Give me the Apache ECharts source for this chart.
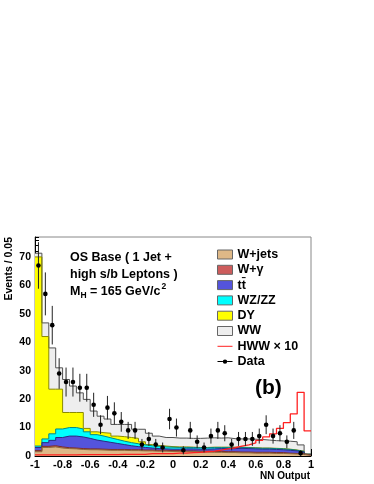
<!DOCTYPE html>
<html>
<head>
<meta charset="utf-8">
<script src="https://cdn.jsdelivr.net/npm/echarts@6/dist/echarts.min.js"></script>
<style>
html,body{margin:0;padding:0;background:#fff;}
#c{width:374px;height:484px;}
</style>
</head>
<body>
<div id="c"></div>
<script>
// ---- data (bins of width 0.05 from -1 to 1) ----
const binWidth = 0.05;
const binLow = Array.from({length: 40}, (_, i) => -1 + binWidth * i);

const wjets  = [1.5,3.0,3.2,2.8,2.6,2.5,2.3,2.2,2.2,2.1,2.0,2.0,2.0,1.9,1.9,1.8,1.8,1.7,1.7,1.6,1.6,1.5,1.5,1.4,1.4,1.3,1.3,1.2,1.2,1.1,1.1,1.0,1.0,1.0,0.9,0.9,0.8,0.7,0.6,0.2];
const wgamma = [0.4,0.4,0.4,0.4,0.3,0.3,0.3,0.3,0.3,0.3,0.3,0.3,0.3,0.3,0.3,0.3,0.3,0.3,0.3,0.3,0.3,0.3,0.3,0.3,0.3,0.3,0.3,0.3,0.3,0.3,0.3,0.3,0.3,0.3,0.3,0.3,0.2,0.2,0.2,0.1];
const ttbar  = [1.1,1.3,1.9,3.3,4.1,4.2,4.1,3.7,3.1,2.8,2.5,2.1,1.7,1.4,1.1,0.9,0.7,0.6,0.5,0.5,0.5,0.7,0.7,0.7,0.7,0.9,1.0,1.1,1.1,1.3,1.2,1.2,1.1,1.1,1.1,1.0,1.0,0.9,0.6,0.2];
const wzzz   = [0.5,1.3,2.3,3.0,3.0,3.0,2.8,2.3,1.9,1.8,1.6,1.4,1.2,1.1,1.0,0.9,0.8,0.8,0.7,0.7,0.6,0.5,0.5,0.5,0.5,0.5,0.4,0.4,0.4,0.3,0.3,0.3,0.3,0.3,0.3,0.3,0.3,0.2,0.2,0.1];
const dy     = [66.5,36.0,15.7,14.0,5.3,5.3,5.8,1.2,1.0,1.2,1.6,1.2,1.6,1.8,1.9,1.1,0.4,0.3,0.3,0.2,0.2,0.2,0.1,0.1,0.1,0.1,0.1,0.1,0.1,0.1,0.1,0.1,0.1,0.1,0.1,0.1,0.1,0.1,0.1,0.0];
const ww     = [1.3,4.8,14.5,7.5,11.6,9.3,6.9,10.2,7.3,5.8,5.0,4.1,4.3,4.6,3.2,4.4,4.0,3.3,3.0,3.2,3.1,3.1,3.1,3.2,3.3,3.3,3.2,3.3,3.0,2.9,3.0,3.0,3.0,2.8,2.7,2.7,2.8,2.9,2.2,0.1];
const hww10  = [0.4,0.4,0.4,0.4,0.4,0.4,0.5,0.5,0.5,0.5,0.5,0.5,0.6,0.6,0.6,0.6,0.8,0.8,0.8,0.8,1.0,1.0,1.2,1.3,1.5,1.7,2.1,2.5,2.9,3.5,3.9,4.6,5.5,6.7,7.8,9.7,11.7,14.8,22.4,8.8];
const dataCounts = [67,57,46,29,26,26,24,24,18,11,17,15,12,9,9,4,6,4,3,13,10,2,9,5,3,7,9,8,4,6,6,6,7,11,7,8,5,9,1,null];

const xTicks = [-1,-0.8,-0.6,-0.4,-0.2,0,0.2,0.4,0.6,0.8,1];
const yTicks = [0,10,20,30,40,50,60,70];

const FONT = '"Liberation Sans", Arial, Helvetica, sans-serif';

// stacking order, bottom first
const layers = [
  {name: 'W+jets',   vals: wjets,  fill: '#deb887', line: '#8a6a3a'},
  {name: 'W+γ',      vals: wgamma, fill: '#cd5c5c', line: '#7a2a2a'},
  {name: 'tt\u0304', vals: ttbar,  fill: '#5454dc', line: '#2a2a80'},
  {name: 'WZ/ZZ',    vals: wzzz,   fill: '#00ffff', line: '#008888'},
  {name: 'DY',       vals: dy,     fill: '#ffff00', line: '#8a8a00'},
  {name: 'WW',       vals: ww,     fill: '#eeeeee', line: '#505050'}
];
let running = binLow.map(() => 0);
layers.forEach(l => {
  running = running.map((r, i) => r + l.vals[i]);
  l.cum = running.slice();
});

function stepData(vals) {
  const d = vals.map((v, i) => [binLow[i], v]);
  d.push([1, vals[vals.length - 1]]);
  return d;
}

function areaSeries(l) {
  return {
    type: 'line', name: l.name, step: 'end',
    data: stepData(l.cum), showSymbol: false, symbol: 'none',
    lineStyle: {color: l.line, width: 1},
    areaStyle: {color: l.fill, opacity: 1, origin: 'start'},
    itemStyle: {color: l.fill},
    z: 2, silent: true
  };
}

const chart = echarts.init(document.getElementById('c'), null, {renderer: 'canvas'});

const dataPoints = [];
dataCounts.forEach((v, i) => { if (v !== null) dataPoints.push([binLow[i] + binWidth / 2, v]); });

// draw top layer first so lower layers paint over it
const areaList = layers.slice().reverse().map(areaSeries);

const option = {
  animation: false,
  backgroundColor: '#fff',
  grid: {left: 35, right: 63, top: 237, bottom: 28, show: true, borderColor: '#888', borderWidth: 1, backgroundColor: 'transparent'},
  xAxis: {
    type: 'value', min: -1, max: 1, interval: 0.2,
    axisLine: {show: true, onZero: false, lineStyle: {color: '#000', width: 1}},
    axisTick: {show: true, inside: true, length: 7, lineStyle: {color: '#000'}},
    minorTick: {show: true, splitNumber: 4, length: 4, lineStyle: {color: '#000'}},
    splitLine: {show: false},
    axisLabel: {
      color: '#000', fontFamily: FONT, fontWeight: 'bold', fontSize: 11, margin: 3,
      formatter: v => (xTicks.some(t => Math.abs(t - v) < 1e-6) ? String(Math.round(v * 10) / 10) : '')
    }
  },
  yAxis: [{
    type: 'value', min: 0, max: 77, interval: 10, position: 'left',
    axisLine: {show: true, onZero: false, lineStyle: {color: '#000', width: 1}},
    axisTick: {show: true, inside: true, length: 7, lineStyle: {color: '#000'}},
    minorTick: {show: false},
    splitLine: {show: false},
    axisLabel: {
      color: '#000', fontFamily: FONT, fontWeight: 'bold', fontSize: 10.5, margin: 4, showMaxLabel: false,
      formatter: v => (yTicks.indexOf(Math.round(v)) >= 0 && Math.abs(v - Math.round(v)) < 1e-6 ? String(Math.round(v)) : '')
    }
  }, {
    type: 'value', min: 0, max: 77, interval: 2, position: 'left', offset: 0,
    axisLine: {show: false, onZero: false},
    axisTick: {show: true, inside: true, length: 4, lineStyle: {color: '#000'}},
    axisLabel: {show: false},
    splitLine: {show: false}
  }],
  legend: {
    orient: 'vertical', left: 217, top: 248, padding: 0, itemWidth: 15, itemHeight: 9, itemGap: 2.3,
    selectedMode: false,
    textStyle: {fontFamily: FONT, fontWeight: 'bold', fontSize: 12.5, color: '#000'},
    data: [
      {name: 'W+jets', icon: 'rect', itemStyle: {color: '#deb887', borderColor: '#666', borderWidth: 1}},
      {name: 'W+γ', icon: 'rect', itemStyle: {color: '#cd5c5c', borderColor: '#666', borderWidth: 1}},
      {name: 'tt\u0304', icon: 'rect', itemStyle: {color: '#5454dc', borderColor: '#666', borderWidth: 1}},
      {name: 'WZ/ZZ', icon: 'rect', itemStyle: {color: '#00ffff', borderColor: '#666', borderWidth: 1}},
      {name: 'DY', icon: 'rect', itemStyle: {color: '#ffff00', borderColor: '#666', borderWidth: 1}},
      {name: 'WW', icon: 'rect', itemStyle: {color: '#eeeeee', borderColor: '#666', borderWidth: 1}},
      {name: 'HWW × 10', icon: 'path://M0,4H15V5H0Z', itemStyle: {color: '#ff2020', borderWidth: 0}},
      {name: 'Data', icon: 'path://M0,4H5.3V5H0Z M9.7,4H15V5H9.7Z M9.7,4.5A2.2,2.2,0,1,1,5.3,4.5A2.2,2.2,0,1,1,9.7,4.5Z', itemStyle: {color: '#000', borderWidth: 0}}
    ]
  },
  series: areaList.concat([
    {
      type: 'line', name: 'HWW × 10', step: 'end', data: stepData(hww10),
      showSymbol: false, symbol: 'none', lineStyle: {color: '#ff2020', width: 1.3},
      itemStyle: {color: '#ff2020'}, z: 4, silent: true
    },
    {
      type: 'custom', name: 'Data', z: 5, silent: true,
      itemStyle: {color: '#000'},
      data: dataPoints,
      renderItem: function (params, api) {
        const x = api.value(0), y = api.value(1);
        const e = Math.sqrt(y);
        const p = api.coord([x, y]);
        const hi = api.coord([x, y + e]);
        const lo = api.coord([x, Math.max(0, y - e)]);
        return {
          type: 'group',
          children: [
            {type: 'line', shape: {x1: p[0], y1: hi[1], x2: p[0], y2: lo[1]}, style: {stroke: '#222', lineWidth: 1}},
            {type: 'circle', shape: {cx: p[0], cy: p[1], r: 2.3}, style: {fill: '#000'}}
          ]
        };
      }
    }
  ]),
  graphic: [
    {type: 'text', x: 9.5, y: 237, rotation: Math.PI / 2,
     style: {text: 'Events / 0.05', font: 'bold 10.5px ' + FONT, fill: '#000', align: 'right', verticalAlign: 'middle'}},
    {type: 'text', x: 310, y: 476,
     style: {text: 'NN Output', font: 'bold 10px ' + FONT, fill: '#000', align: 'right', verticalAlign: 'middle'}},
    {type: 'text', x: 70, y: 258,
     style: {text: 'OS Base ( 1 Jet +', font: 'bold 12.5px ' + FONT, fill: '#000', align: 'left', verticalAlign: 'middle'}},
    {type: 'text', x: 70, y: 275,
     style: {text: 'high s/b Leptons )', font: 'bold 12.5px ' + FONT, fill: '#000', align: 'left', verticalAlign: 'middle'}},
    {type: 'text', x: 70, y: 292,
     style: {text: 'M', font: 'bold 12.5px ' + FONT, fill: '#000', align: 'left', verticalAlign: 'middle'}},
    {type: 'text', x: 80.6, y: 296,
     style: {text: 'H', font: 'bold 8.5px ' + FONT, fill: '#000', align: 'left', verticalAlign: 'middle'}},
    {type: 'text', x: 86.5, y: 292,
     style: {text: ' = 165 GeV/c', font: 'bold 12.5px ' + FONT, fill: '#000', align: 'left', verticalAlign: 'middle'}},
    {type: 'text', x: 161.5, y: 287,
     style: {text: '2', font: 'bold 8.5px ' + FONT, fill: '#000', align: 'left', verticalAlign: 'middle'}},
    {type: 'text', x: 255, y: 388,
     style: {text: '(b)', font: 'bold 21px ' + FONT, fill: '#000', align: 'left', verticalAlign: 'middle'}}
  ]
};
chart.setOption(option);
</script>
</body>
</html>
